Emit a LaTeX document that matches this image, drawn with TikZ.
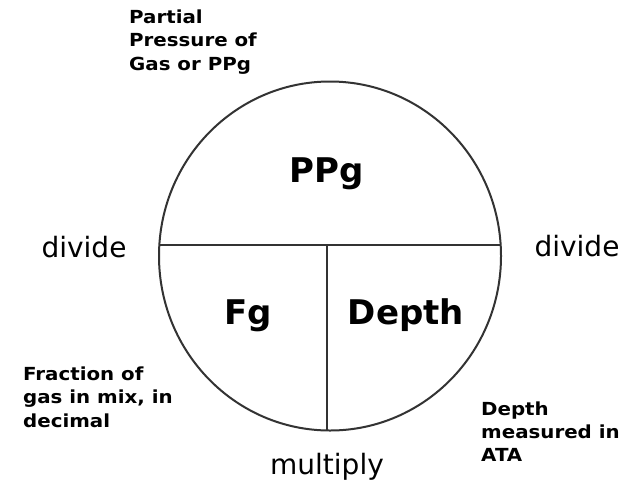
\documentclass[tikz,border=0pt]{standalone}
\usepackage{fontspec}
\setmainfont{DejaVu Sans}
\newfontfamily\lblfont{DejaVu Sans}[FakeStretch=1.1]
\tikzset{
  ln/.style={line width=2pt, draw=black!80},
  big/.style={font=\fontsize{34}{40}\selectfont\bfseries, anchor=base, inner sep=0pt},
  word/.style={font=\fontsize{28}{34}\selectfont, anchor=base, inner sep=0pt},
  note/.style={font=\lblfont\bfseries\fontsize{18}{23.3}\selectfont, align=left, anchor=base west, inner sep=0pt},
}
\begin{document}
\begin{tikzpicture}[x=1pt,y=-1pt]
\useasboundingbox[fill=white] (0,0) rectangle (636,483);
% circle
\draw[ln] (330,256) ellipse [x radius=171pt, y radius=174.5pt];
\coordinate (hl) at (159.4,245);
\coordinate (hr) at (500.6,245);
\coordinate (vt) at (327,245);
\coordinate (vb) at (327,430.5);
\draw[ln] (hl) -- (hr);
\draw[ln] (vt) -- (vb);
% main labels
\node[big] (ppg) at (327,182) {PPg};
\node[big] (fg) at (248.5,324) {Fg};
\node[big] (depth) at (406,324) {Depth};
% operations
\node[word] (dl) at (84,257) {divide};
\node[word] (dr) at (577,256) {divide};
\node[word] (mul) at (327,474) {multiply};
% notes
\node[note] (n1) at (129,70) {Partial\\Pressure of\\Gas or PPg};
\node[note] (n2) at (23,427) {Fraction of\\gas in mix, in\\decimal};
\node[note] (n3) at (481,461.7) {Depth\\measured in\\ATA};
\end{tikzpicture}
\end{document}
